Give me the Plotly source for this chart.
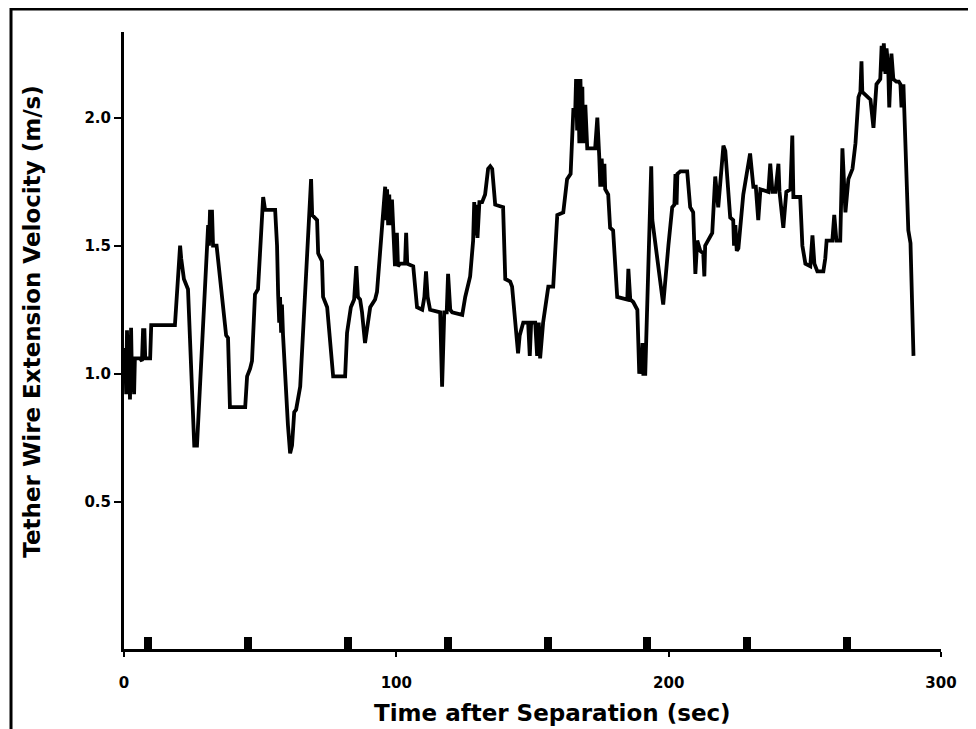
import plotly.graph_objects as go

# Time after separation (sec)
time_s = [
    0.0, 0.4, 0.8, 1.1, 1.5, 1.8, 2.2, 2.6, 3.0, 3.3, 3.7, 4.0, 5.1, 5.9, 6.6, 7.0, 7.5, 7.8,
    9.6, 10.0, 18.7, 20.6, 21.0, 22.0, 23.5, 25.3, 25.8, 26.8, 27.9, 30.5, 30.9, 31.2, 31.6,
    32.0, 32.3, 32.7, 34.0, 34.5, 37.1, 37.5, 38.2, 38.9, 44.5, 45.2, 46.3, 47.0, 48.1, 49.2,
    51.1, 51.8, 55.5, 56.2, 56.6, 57.0, 57.3, 57.7, 58.0, 58.4, 60.2, 61.0, 61.7, 62.5, 63.2,
    64.7, 68.7, 69.1, 70.9, 71.3, 72.7, 73.1, 74.6, 74.9, 75.3, 76.8, 81.2, 81.9, 83.3, 84.5,
    85.3, 85.9, 86.7, 87.4, 88.5, 89.3, 90.4, 92.2, 92.9, 95.9, 96.3, 96.6, 97.0, 97.4, 97.7,
    98.4, 98.8, 99.5, 100.2, 100.6, 101.4, 103.2, 103.6, 104.0, 106.2, 107.6, 109.5, 110.3,
    110.9, 111.5, 112.4, 116.1, 116.8, 117.6, 118.5, 119.0, 119.8, 120.5, 124.2, 125.3, 127.1,
    128.2, 128.6, 129.0, 129.4, 129.8, 130.5, 131.5, 132.6, 133.7, 134.5, 135.2, 136.3, 139.2,
    140.0, 141.8, 142.5, 144.7, 145.3, 146.6, 148.4, 149.0, 149.5, 151.0, 151.7, 152.3, 152.8,
    153.9, 155.8, 157.6, 159.1, 161.3, 162.7, 164.0, 165.0, 165.7, 166.0, 166.4, 166.8, 167.2,
    167.6, 167.9, 168.3, 168.6, 169.4, 170.1, 173.0, 173.8, 174.5, 174.9, 175.4, 176.0, 176.4,
    176.7, 177.8, 178.5, 179.6, 181.1, 184.8, 185.2, 185.9, 187.0, 188.5, 189.2, 189.6, 189.9,
    190.4, 190.7, 191.4, 192.1, 193.6, 194.0, 198.0, 199.9, 201.3, 202.1, 202.5, 202.9, 203.2,
    204.3, 206.8, 207.9, 209.0, 209.8, 210.5, 211.6, 212.7, 213.1, 213.4, 216.0, 217.1, 218.2,
    219.0, 220.1, 220.8, 222.6, 223.7, 224.0, 224.5, 225.0, 225.6, 227.4, 229.9, 231.1, 232.0,
    232.9, 233.7, 236.6, 237.3, 238.1, 239.2, 240.3, 240.7, 242.1, 243.2, 244.7, 245.4, 245.8,
    248.3, 249.1, 250.2, 252.0, 252.8, 253.5, 254.6, 256.8, 257.5, 258.0, 260.1, 260.8, 261.6,
    263.0, 263.8, 264.9, 266.0, 267.5, 268.6, 269.7, 270.4, 270.8, 271.1, 274.1, 275.2, 276.3,
    277.7, 278.2, 278.6, 279.0, 279.6, 280.0, 280.6, 281.0, 281.8, 282.5, 283.6, 284.5, 285.1,
    285.5, 286.2, 288.0, 288.8, 289.9,
]

# Tether wire extension velocity (m/s)
velocity = [
    1.00, 1.10, 0.92, 1.17, 0.95, 1.15, 0.90, 1.18, 0.93, 1.05, 0.92, 1.06, 1.06, 1.06, 1.05, 1.17, 1.17, 1.06,
    1.06, 1.19, 1.19, 1.50, 1.45, 1.37, 1.33, 0.80, 0.72, 0.72, 0.95, 1.50, 1.58, 1.50, 1.64,
    1.52, 1.64, 1.50, 1.50, 1.45, 1.20, 1.15, 1.14, 0.87, 0.87, 0.99, 1.02, 1.05, 1.31, 1.33,
    1.69, 1.64, 1.64, 1.50, 1.31, 1.20, 1.30, 1.16, 1.27, 1.15, 0.80, 0.69, 0.72, 0.85, 0.86,
    0.95, 1.76, 1.62, 1.60, 1.47, 1.44, 1.30, 1.26, 1.22, 1.17, 0.99, 0.99, 1.16, 1.26, 1.29,
    1.42, 1.30, 1.29, 1.24, 1.12, 1.18, 1.26, 1.29, 1.32, 1.73, 1.60, 1.72, 1.58, 1.70, 1.58,
    1.68, 1.55, 1.42, 1.55, 1.42, 1.43, 1.43, 1.55, 1.43, 1.42, 1.26, 1.25, 1.30,
    1.40, 1.30, 1.25, 1.24, 0.95, 1.24, 1.24, 1.39, 1.25, 1.24, 1.23, 1.30, 1.38,
    1.52, 1.67, 1.54, 1.66, 1.53, 1.67, 1.67, 1.70, 1.80, 1.81, 1.80, 1.66, 1.65,
    1.37, 1.36, 1.34, 1.08, 1.15, 1.20, 1.20, 1.07, 1.20, 1.20, 1.07, 1.20, 1.06,
    1.20, 1.34, 1.34, 1.62, 1.63, 1.76, 1.78, 2.03, 2.03, 2.15, 1.95, 2.15, 1.90,
    2.15, 2.00, 2.12, 1.90, 2.05, 1.88, 1.88, 2.00, 1.85, 1.73, 1.84, 1.73, 1.82,
    1.72, 1.70, 1.57, 1.56, 1.30, 1.29, 1.41, 1.29, 1.28, 1.25, 1.00, 1.10, 1.00,
    1.12, 1.00, 1.00, 1.26, 1.81, 1.60, 1.27, 1.50, 1.65, 1.66, 1.78, 1.66, 1.78,
    1.79, 1.79, 1.65, 1.63, 1.39, 1.52, 1.48, 1.47, 1.38, 1.50, 1.55, 1.77, 1.65,
    1.75, 1.89, 1.87, 1.61, 1.60, 1.50, 1.58, 1.48, 1.49, 1.70, 1.86, 1.73, 1.73,
    1.60, 1.72, 1.71, 1.82, 1.71, 1.71, 1.82, 1.71, 1.57, 1.71, 1.72, 1.93, 1.69,
    1.69, 1.50, 1.43, 1.42, 1.54, 1.43, 1.40, 1.40, 1.45, 1.52, 1.52, 1.62, 1.52,
    1.52, 1.88, 1.63, 1.76, 1.80, 1.90, 2.08, 2.10, 2.22, 2.10, 2.07, 1.96, 2.13,
    2.15, 2.28, 2.18, 2.29, 2.17, 2.27, 2.20, 2.04, 2.25, 2.15, 2.14, 2.14, 2.13,
    2.04, 2.13, 1.56, 1.51, 1.07,
]

# Timing marks along the time axis (sec)
timing_marks = [8.8, 45.5, 82.2, 118.9, 155.6, 192.2, 228.8, 265.4]
timing_mark_height = [0.045] * len(timing_marks)

x_tick_vals = [0, 100, 200, 300]
x_tick_text = ["0", "100", "200", "300"]
y_tick_vals = [0.5, 1.0, 1.5, 2.0]
y_tick_text = ["0.5", "1.0", "1.5", "2.0"]

Y_MIN, Y_MAX = -0.074, 2.334
X_MIN, X_MAX = 0, 300

fig = go.Figure()

fig.add_trace(go.Bar(
    x=timing_marks, y=timing_mark_height, base=Y_MIN, width=2.9,
    marker=dict(color="black", line=dict(width=0)), showlegend=False,
    hoverinfo="skip",
))

fig.add_trace(go.Scatter(
    x=time_s, y=velocity, mode="lines",
    line=dict(color="black", width=3.8),
    showlegend=False,
))

title_font = "DejaVu Sans, Verdana, sans-serif"

fig.update_layout(
    width=968, height=721,
    margin=dict(l=116, r=35, t=24, b=80),
    paper_bgcolor="white", plot_bgcolor="white",
    showlegend=False,
    font=dict(family=title_font, color="black"),
    xaxis=dict(
        range=[X_MIN, X_MAX], tickvals=x_tick_vals, ticktext=x_tick_text,
        showline=True, linecolor="black", linewidth=3,
        ticks="outside", ticklen=5, tickwidth=2, tickcolor="black",
        showgrid=False, zeroline=False,
        tickfont=dict(size=15, family=title_font, weight="bold", color="black"),
        ticklabelstandoff=13,
    ),
    yaxis=dict(
        range=[Y_MIN, Y_MAX], tickvals=y_tick_vals, ticktext=y_tick_text,
        showline=True, linecolor="black", linewidth=3,
        ticks="outside", ticklen=7, tickwidth=2, tickcolor="black",
        showgrid=False, zeroline=False,
        tickfont=dict(size=15, family=title_font, weight="bold", color="black"),
    ),
    annotations=[
        dict(text="Time after Separation (sec)", xref="paper", yref="paper",
             x=0.525, y=-0.104, showarrow=False, xanchor="center", yanchor="middle",
             font=dict(size=23, family=title_font, weight="bold", color="black")),
        dict(text="Tether Wire Extension Velocity (m/s)", xref="paper", yref="paper",
             x=-0.113, y=0.53, showarrow=False, xanchor="center", yanchor="middle",
             textangle=-90,
             font=dict(size=23, family=title_font, weight="bold", color="black")),
    ],
    shapes=[
        dict(type="rect", xref="paper", yref="paper",
             x0=-0.1383, x1=1.06, y0=-0.15, y1=1.0373,
             line=dict(color="black", width=3), fillcolor="rgba(0,0,0,0)", layer="below"),
    ],
    bargap=0,
)

fig.write_html("out.html")
